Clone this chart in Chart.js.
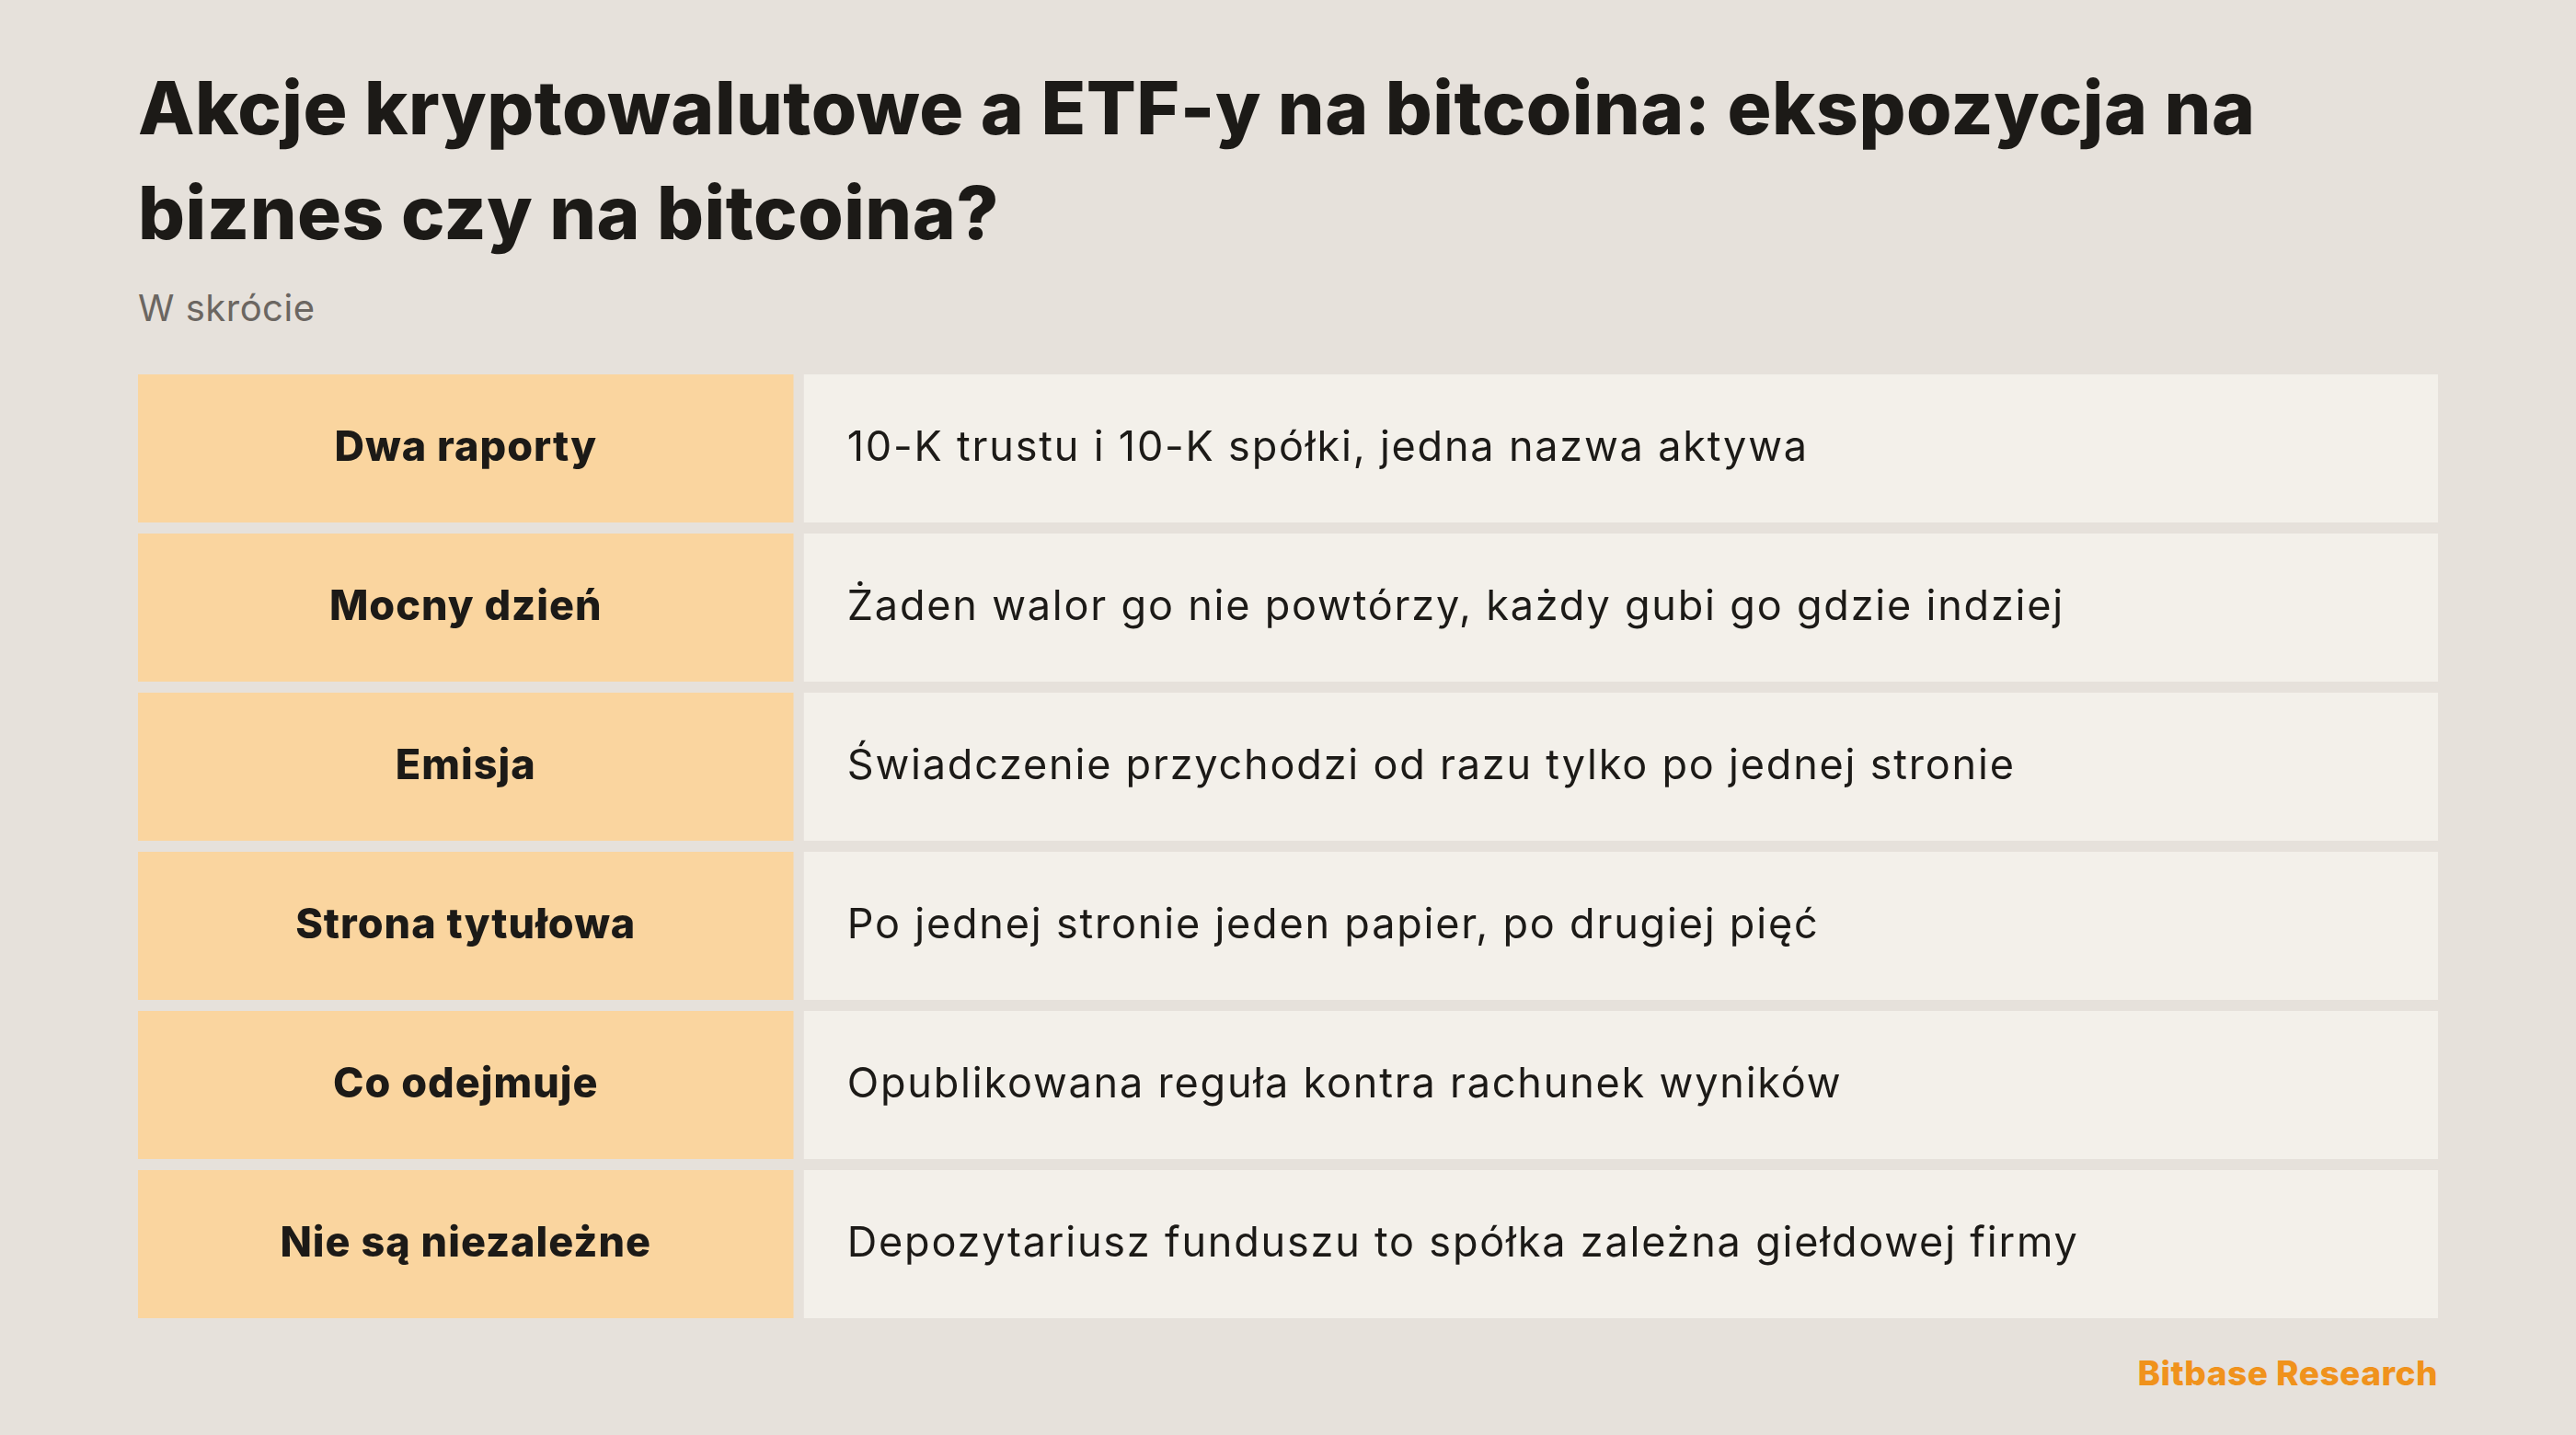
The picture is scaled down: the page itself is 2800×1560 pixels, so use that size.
<!DOCTYPE html>
<html>
<head>
<meta charset="utf-8">
<script src="https://cdn.jsdelivr.net/npm/chart.js@4/dist/chart.umd.min.js"></script>
<style>
  html, body { margin: 0; padding: 0; }
  body { width: 2800px; height: 1560px; background: #e6e1db; position: relative; overflow: hidden; font-family: Inter, "Open Sans", sans-serif; }
  h1 { position: absolute; left: 150px; top: 60px; margin: 0; width: 2550px; font-size: 80px; line-height: 114px; font-weight: 800; color: #1c1a17; letter-spacing: 0.5px; }
  .sub { position: absolute; left: 150px; top: 310px; font-size: 40px; color: #6b6661; letter-spacing: 0.5px; }
  .foot { position: absolute; right: 150px; top: 1470px; font-size: 37px; font-weight: 800; color: #f0921c; letter-spacing: 0.5px; }
  #wrap { position: absolute; left: 150px; top: 401px; width: 2500px; height: 1038px; }
</style>
</head>
<body>
<h1>Akcje kryptowalutowe a ETF-y na bitcoina: ekspozycja na<br>biznes czy na bitcoina?</h1>
<div class="sub">W skrócie</div>
<div id="wrap"><canvas id="tbl"></canvas></div>
<div class="foot">Bitbase Research</div>
<script>
const labels = ['Dwa raporty', 'Mocny dzień', 'Emisja', 'Strona tytułowa', 'Co odejmuje', 'Nie są niezależne']
const texts = [
  '10-K trustu i 10-K spółki, jedna nazwa aktywa',
  'Żaden walor go nie powtórzy, każdy gubi go gdzie indziej',
  'Świadczenie przychodzi od razu tylko po jednej stronie',
  'Po jednej stronie jeden papier, po drugiej pięć',
  'Opublikowana reguła kontra rachunek wyników',
  'Depozytariusz funduszu to spółka zależna giełdowej firmy'
]
// column spans on a 0..100 axis
const labelCol = [0, 28.5]
const textCol = [28.95, 100]

const cellText = {
  id: 'cellText',
  afterDatasetsDraw(chart) {
    const ctx = chart.ctx
    ctx.save()
    ctx.textBaseline = 'middle'
    ctx.fillStyle = '#1c1a17'
    chart.getDatasetMeta(0).data.forEach((bar, i) => {
      ctx.font = '800 45px Inter, "Open Sans", sans-serif'
      ctx.letterSpacing = '1px'
      ctx.textAlign = 'center'
      ctx.fillText(labels[i], (bar.base + bar.x) / 2, bar.y)
    })
    chart.getDatasetMeta(1).data.forEach((bar, i) => {
      ctx.font = '400 45px Inter, "Open Sans", sans-serif'
      ctx.letterSpacing = '1.8px'
      ctx.textAlign = 'left'
      ctx.fillText(texts[i], Math.min(bar.base, bar.x) + 47, bar.y)
    })
    ctx.restore()
  }
}

new Chart(document.getElementById('tbl'), {
  type: 'bar',
  data: {
    labels: labels,
    datasets: [
      { data: labels.map(() => labelCol), backgroundColor: '#fad59f', grouped: false, borderSkipped: false },
      { data: labels.map(() => textCol), backgroundColor: '#f3f0ea', grouped: false, borderSkipped: false }
    ]
  },
  options: {
    indexAxis: 'y',
    responsive: true,
    maintainAspectRatio: false,
    animation: false,
    barPercentage: 1,
    categoryPercentage: 161 / 173,
    layout: { padding: 0 },
    scales: {
      x: { display: false, min: 0, max: 100 },
      y: { display: false }
    },
    plugins: { legend: { display: false }, tooltip: { enabled: false } }
  },
  plugins: [cellText]
})
</script>
</body>
</html>
